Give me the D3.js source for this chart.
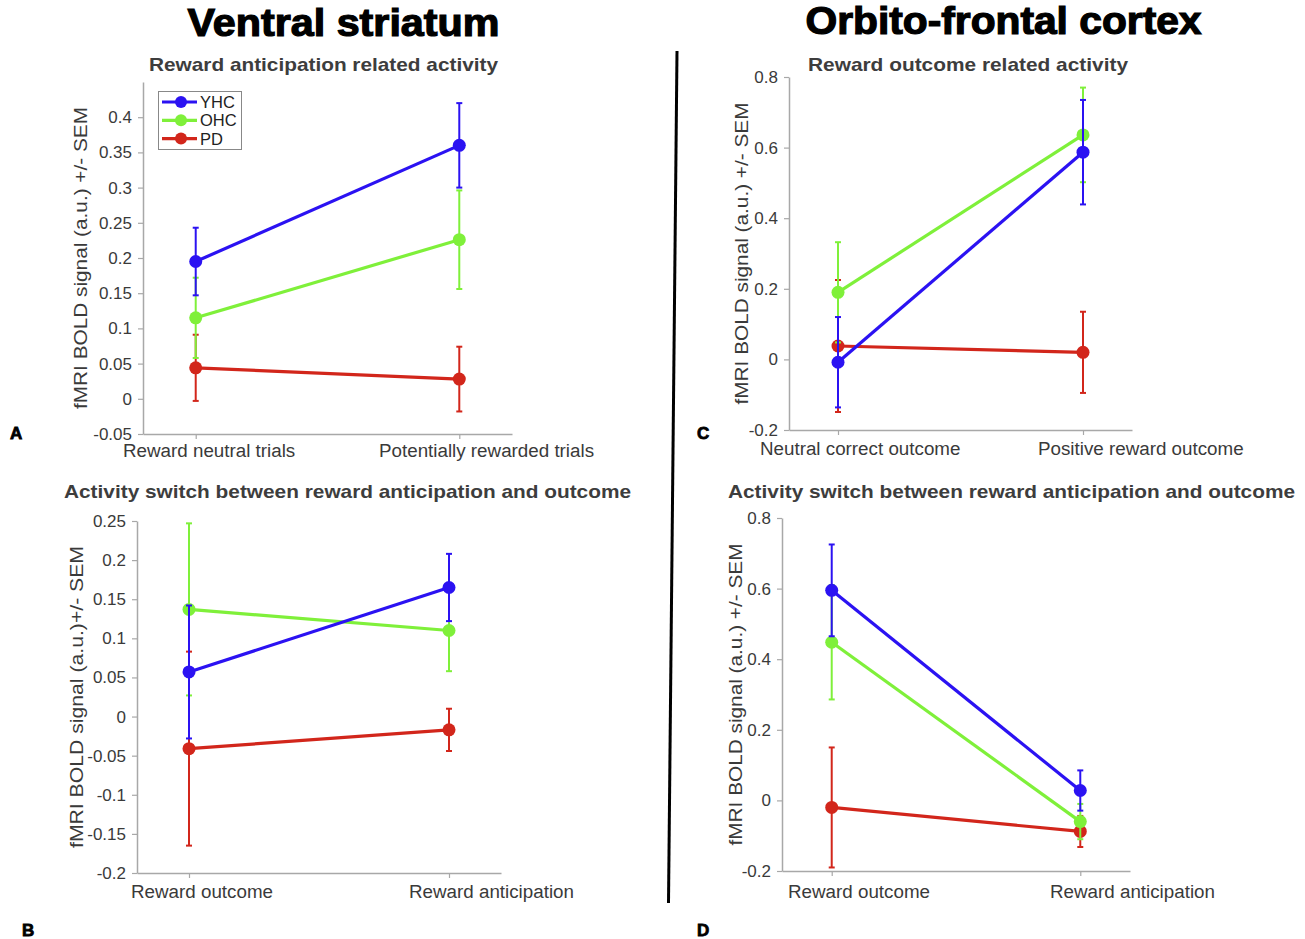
<!DOCTYPE html>
<html>
<head>
<meta charset="utf-8">
<script src="https://cdn.jsdelivr.net/npm/d3@7"></script>
<style>
  body { margin: 0; background: #fff; }
  text { font-family: "Liberation Sans", Arial, Helvetica, sans-serif; }
</style>
</head>
<body>
<svg id="chart" width="1305" height="939"></svg>
<script>
var groups = ["YHC", "OHC", "PD"];

// A: ventral striatum, anticipation
var catsA = ["Reward neutral trials", "Potentially rewarded trials"];
var yhcA = [0.195, 0.36], yhcErrA = [0.048, 0.06];
var ohcA = [0.115, 0.226], ohcErrA = [0.057, 0.07];
var pdA = [0.044, 0.028], pdErrA = [0.047, 0.046];
var ticksA = [-0.05, 0, 0.05, 0.1, 0.15, 0.2, 0.25, 0.3, 0.35, 0.4];
var yDomainA = [-0.05, 0.45];

// B: ventral striatum, switch
var catsB = ["Reward outcome", "Reward anticipation"];
var yhcB = [0.057, 0.165], yhcErrB = [0.085, 0.043];
var ohcB = [0.137, 0.11], ohcErrB = [0.11, 0.052];
var pdB = [-0.041, -0.017], pdErrB = [0.124, 0.027];
var ticksB = [-0.2, -0.15, -0.1, -0.05, 0, 0.05, 0.1, 0.15, 0.2, 0.25];
var yDomainB = [-0.2, 0.25];

// C: orbito-frontal, outcome
var catsC = ["Neutral correct outcome", "Positive reward outcome"];
var yhcC = [-0.008, 0.587], yhcErrC = [0.128, 0.148];
var ohcC = [0.19, 0.636], ohcErrC = [0.142, 0.134];
var pdC = [0.038, 0.02], pdErrC = [0.187, 0.115];
var ticksC = [-0.2, 0, 0.2, 0.4, 0.6, 0.8];
var yDomainC = [-0.2, 0.8];

// D: orbito-frontal, switch
var catsD = ["Reward outcome", "Reward anticipation"];
var yhcD = [0.595, 0.028], yhcErrD = [0.13, 0.057];
var ohcD = [0.448, -0.06], ohcErrD = [0.162, 0.05];
var pdD = [-0.02, -0.088], pdErrD = [0.17, 0.044];
var ticksD = [-0.2, 0, 0.2, 0.4, 0.6, 0.8];
var yDomainD = [-0.2, 0.8];

var colors = { YHC: "#2b12f2", OHC: "#7ff03a", PD: "#d2261b" };

var svg = d3.select("#chart");

var panels = [
  { cats: catsA, series: { YHC: [yhcA, yhcErrA], OHC: [ohcA, ohcErrA], PD: [pdA, pdErrA] },
    ticks: ticksA, domain: yDomainA, left: 143, right: 512, top: 82, bottom: 434,
    title: "Reward anticipation related activity", titleX: 323.5, titleY: 71, titleW: 349,
    ylabel: "fMRI BOLD signal (a.u.) +/- SEM", ylabelX: 80,
    labelX: [123, 379], labelY: 457, letter: "A", letterX: 10, letterY: 439, legend: true },
  { cats: catsB, series: { YHC: [yhcB, yhcErrB], OHC: [ohcB, ohcErrB], PD: [pdB, pdErrB] },
    ticks: ticksB, domain: yDomainB, left: 137, right: 501, top: 521, bottom: 873,
    title: "Activity switch between reward anticipation and outcome", titleX: 347.5, titleY: 498, titleW: 567,
    ylabel: "fMRI BOLD signal (a.u.)+/- SEM", ylabelX: 76,
    labelX: [131, 409], labelY: 898, letter: "B", letterX: 22, letterY: 936 },
  { cats: catsC, series: { YHC: [yhcC, yhcErrC], OHC: [ohcC, ohcErrC], PD: [pdC, pdErrC] },
    ticks: ticksC, domain: yDomainC, left: 789, right: 1132, top: 77, bottom: 430,
    title: "Reward outcome related activity", titleX: 968, titleY: 71, titleW: 320,
    ylabel: "fMRI BOLD signal (a.u.) +/- SEM", ylabelX: 741,
    labelX: [760, 1038], labelY: 455, letter: "C", letterX: 697, letterY: 439 },
  { cats: catsD, series: { YHC: [yhcD, yhcErrD], OHC: [ohcD, ohcErrD], PD: [pdD, pdErrD] },
    ticks: ticksD, domain: yDomainD, left: 782, right: 1130, top: 518, bottom: 871,
    title: "Activity switch between reward anticipation and outcome", titleX: 1011.5, titleY: 498, titleW: 567,
    ylabel: "fMRI BOLD signal (a.u.) +/- SEM", ylabelX: 735,
    labelX: [788, 1050], labelY: 898, letter: "D", letterX: 697, letterY: 936 }
];

function fmt(d) { return String(+d.toFixed(2)); }

function drawPanel(p) {
  var x = d3.scaleLinear().domain([0.8, 2.2]).range([p.left, p.right]);
  var y = d3.scaleLinear().domain(p.domain).range([p.bottom, p.top]);

  var gy = svg.append("g")
    .attr("transform", "translate(" + p.left + ",0)")
    .call(d3.axisLeft(y).tickValues(p.ticks).tickFormat(fmt).tickSize(5).tickSizeOuter(0).tickPadding(6));
  var gx = svg.append("g")
    .attr("transform", "translate(0," + p.bottom + ")")
    .call(d3.axisBottom(x).tickValues([1, 2]).tickFormat("").tickSize(5).tickSizeOuter(0));
  [gy, gx].forEach(function(g) {
    g.select(".domain").attr("stroke", "#a8a8a8").attr("stroke-width", 1.5);
    g.selectAll(".tick line").attr("stroke", "#a8a8a8").attr("stroke-width", 1.2);
    g.selectAll("text").attr("fill", "#3a3a3a").attr("font-size", 17)
      .attr("font-family", "Liberation Sans, Arial, sans-serif");
  });

  // category labels
  svg.selectAll(null).data(p.cats).enter().append("text")
    .attr("x", function(d, i) { return p.labelX[i]; })
    .attr("y", p.labelY)
    .attr("font-size", 18.8).attr("fill", "#3a3a3a")
    .text(function(d) { return d; });

  // series, PD first so YHC ends on top
  var line = d3.line().x(function(d, i) { return x(i + 1); }).y(function(d) { return y(d); });
  groups.slice().reverse().forEach(function(gname) {
    var vals = p.series[gname][0], errs = p.series[gname][1], c = colors[gname];
    var g = svg.append("g");
    vals.forEach(function(v, i) {
      var cx = x(i + 1), y0 = y(v - errs[i]), y1 = y(v + errs[i]);
      g.append("line").attr("x1", cx).attr("x2", cx).attr("y1", y0).attr("y2", y1)
        .attr("stroke", c).attr("stroke-width", 2);
      [y0, y1].forEach(function(yy) {
        g.append("line").attr("x1", cx - 3).attr("x2", cx + 3).attr("y1", yy).attr("y2", yy)
          .attr("stroke", c).attr("stroke-width", 2);
      });
    });
    g.append("path").datum(vals).attr("d", line)
      .attr("fill", "none").attr("stroke", c).attr("stroke-width", 3.2);
    g.selectAll("circle").data(vals).enter().append("circle")
      .attr("cx", function(d, i) { return x(i + 1); })
      .attr("cy", function(d) { return y(d); })
      .attr("r", 6.5).attr("fill", c);
  });

  // subtitle
  svg.append("text")
    .attr("x", p.titleX).attr("y", p.titleY)
    .attr("text-anchor", "middle").attr("font-size", 19).attr("font-weight", "bold")
    .attr("fill", "#3d3d3d")
    .attr("textLength", p.titleW).attr("lengthAdjust", "spacingAndGlyphs")
    .text(p.title);

  // y label
  var my = (p.top + p.bottom) / 2;
  svg.append("text")
    .attr("transform", "translate(" + p.ylabelX + "," + my + ") rotate(-90)")
    .attr("text-anchor", "middle").attr("dominant-baseline", "central")
    .attr("font-size", 19).attr("fill", "#3a3a3a")
    .attr("textLength", 302).attr("lengthAdjust", "spacingAndGlyphs")
    .text(p.ylabel);

  // panel letter
  svg.append("text")
    .attr("x", p.letterX).attr("y", p.letterY)
    .attr("font-size", 17).attr("font-weight", "bold").attr("fill", "#000")
    .attr("stroke", "#000").attr("stroke-width", 0.8)
    .text(p.letter);

  if (p.legend) {
    var lg = svg.append("g");
    lg.append("rect").attr("x", 158.5).attr("y", 91.5).attr("width", 83).attr("height", 58)
      .attr("fill", "#fff").attr("stroke", "#888").attr("stroke-width", 1);
    groups.forEach(function(gname, i) {
      var ly = 102 + i * 18.3;
      lg.append("line").attr("x1", 162).attr("x2", 197).attr("y1", ly).attr("y2", ly)
        .attr("stroke", colors[gname]).attr("stroke-width", 3.2);
      lg.append("circle").attr("cx", 181).attr("cy", ly).attr("r", 6).attr("fill", colors[gname]);
      lg.append("text").attr("x", 200).attr("y", ly).attr("dominant-baseline", "central")
        .attr("font-size", 16.5).attr("fill", "#222").text(gname);
    });
  }
}

panels.forEach(drawPanel);

// big region titles
svg.append("text").attr("x", 343.5).attr("y", 36).attr("text-anchor", "middle")
  .attr("font-size", 38).attr("font-weight", "bold").attr("fill", "#000")
  .attr("stroke", "#000").attr("stroke-width", 1.2)
  .attr("textLength", 312).attr("lengthAdjust", "spacingAndGlyphs")
  .text("Ventral striatum");
svg.append("text").attr("x", 1003.5).attr("y", 34).attr("text-anchor", "middle")
  .attr("font-size", 38).attr("font-weight", "bold").attr("fill", "#000")
  .attr("stroke", "#000").attr("stroke-width", 1.2)
  .attr("textLength", 396).attr("lengthAdjust", "spacingAndGlyphs")
  .text("Orbito-frontal cortex");

// divider
svg.append("line").attr("x1", 677).attr("y1", 51).attr("x2", 668.5).attr("y2", 903)
  .attr("stroke", "#000").attr("stroke-width", 3);
</script>
</body>
</html>
